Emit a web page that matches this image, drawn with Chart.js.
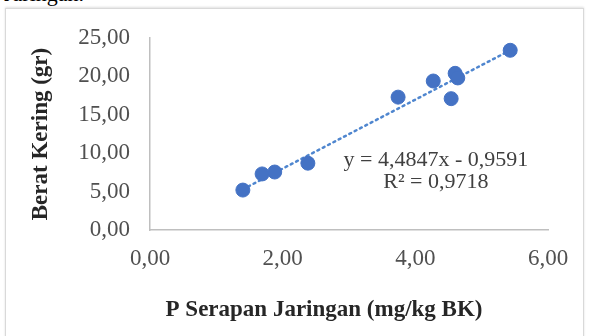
<!DOCTYPE html>
<html>
<head>
<meta charset="utf-8">
<script src="https://cdn.jsdelivr.net/npm/chart.js@4/dist/chart.umd.min.js"></script>
<style>
  html, body { margin: 0; padding: 0; background: #fff; }
  body { width: 593px; height: 336px; position: relative; overflow: hidden; }
  #above {
    position: absolute; left: 4px; top: -19px;
    font: 22px "Liberation Serif", serif; color: #000;
  }
  #frame {
    position: absolute; left: 5px; top: 8px; width: 577px; height: 340px;
    border: 1px solid #d9d9d9;
    box-shadow: 0 -1px 2px rgba(0,0,0,0.12);
  }
  #chart { position: absolute; left: 0; top: 0; }
</style>
</head>
<body>
<div id="above">Jaringan.</div>
<div id="frame"></div>
<canvas id="chart" width="593" height="336"></canvas>
<script>
  // P uptake (mg/kg BK) vs dry weight (gr)
  const serapanP = [1.40, 1.69, 1.88, 2.38, 3.74, 4.27, 4.60, 4.64, 4.54, 5.43];
  const beratKering = [5.2, 7.3, 7.55, 8.7, 17.3, 19.4, 20.4, 19.8, 17.1, 23.4];

  // linear trendline ends
  const trendX = [1.40, 5.43];
  const trendY = [5.3, 23.4];

  const equationLines = ["y = 4,4847x - 0,9591", "R\u00b2 = 0,9718"];
  const xTitle = "P Serapan Jaringan (mg/kg BK)";
  const yTitle = "Berat Kering (gr)";

  const fmt = (v) => v.toFixed(2).replace(".", ",");

  const extraText = {
    id: "extraText",
    afterDraw(chart) {
      const { ctx, scales } = chart;
      ctx.save();
      ctx.fillStyle = "#404040";
      ctx.textAlign = "center";
      ctx.textBaseline = "middle";
      ctx.font = '22px "Liberation Serif"';
      const ex = scales.x.getPixelForValue(4.31);
      const ey = scales.y.getPixelForValue(9.1);
      ctx.fillText(equationLines[0], ex, ey);
      ctx.fillText(equationLines[1], ex, ey + 22);

      ctx.font = 'bold 23px "Liberation Serif"';
      ctx.fillStyle = "#262626";
      ctx.fillText(xTitle, 324, 310);
      ctx.restore();
    },
  };

  document.addEventListener("DOMContentLoaded", () => {
    const ctx = document.getElementById("chart").getContext("2d");

    new Chart(ctx, {
      type: "scatter",
      data: {
        datasets: [
          {
            label: "Berat Kering",
            data: serapanP.map((x, i) => ({ x: x, y: beratKering[i] })),
            backgroundColor: "#4472C4",
            borderColor: "#4472C4",
            pointRadius: 7,
            pointHoverRadius: 7,
            order: 0,
          },
          {
            label: "Linear",
            type: "line",
            data: trendX.map((x, i) => ({ x: x, y: trendY[i] })),
            borderColor: "#4F86CF",
            borderWidth: 2.5,
            borderDash: [2, 4],
            borderCapStyle: "round",
            pointRadius: 0,
            fill: false,
            order: 1,
          },
        ],
      },
      options: {
        responsive: false,
        animation: false,
        layout: { padding: { left: 0, top: 38, right: 45, bottom: 0 } },
        plugins: {
          legend: { display: false },
          tooltip: { enabled: false },
        },
        scales: {
          x: {
            type: "linear",
            min: 0,
            max: 6,
            grid: { display: false, drawTicks: false },
            border: { display: true, color: "#bfbfbf", width: 1.5 },
            ticks: {
              stepSize: 2,
              padding: 15,
              color: "#505050",
              font: { family: "Liberation Serif", size: 23 },
              callback: (v) => fmt(v),
            },
            afterFit: (scale) => { scale.height = 106; },
          },
          y: {
            min: 0,
            max: 25,
            grid: { display: false, drawTicks: false },
            border: { display: true, color: "#bfbfbf", width: 1.5 },
            ticks: {
              stepSize: 5,
              padding: 20,
              color: "#505050",
              font: { family: "Liberation Serif", size: 23 },
              callback: (v) => fmt(v),
            },
            title: {
              display: true,
              text: yTitle,
              color: "#262626",
              font: { family: "Liberation Serif", size: 23, weight: "bold" },
              padding: { top: 27, bottom: 0 },
            },
            afterFit: (scale) => { scale.width = 150; },
          },
        },
      },
      plugins: [extraText],
    });
  });
</script>
</body>
</html>
